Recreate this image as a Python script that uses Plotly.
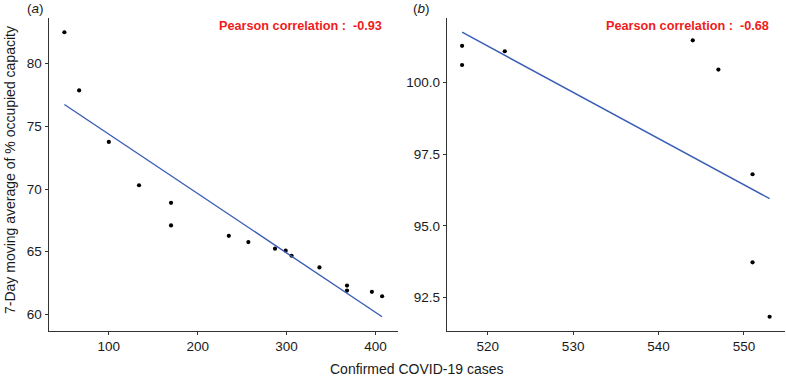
import numpy as np
import plotly.graph_objects as go

# Panel (a)
cases_a = [50, 66.6, 100, 134, 170, 170, 235, 257, 287, 299, 305.6, 337, 368, 368, 396, 407.5]
occ_a = [82.5, 77.86, 73.75, 70.3, 68.9, 67.1, 66.27, 65.77, 65.24, 65.08, 64.68, 63.75, 62.3, 61.9, 61.8, 61.45]
# Panel (b)
cases_b = [517, 517, 522, 544, 547, 551, 551, 553]
occ_b = [101.28, 100.61, 101.09, 101.47, 100.45, 96.8, 93.73, 91.83]

corr_labels = ["Pearson correlation :  -0.93", "Pearson correlation :  -0.68"]
panel_labels = ["(<i>a</i>)", "(<i>b</i>)"]
x_title = "Confirmed COVID-19 cases"
y_title = "7-Day moving average of % occupied capacity"

W, H = 786, 376
FONT = "Liberation Sans, Arial, Helvetica, sans-serif"

fig = go.Figure()

def fit_line(x, y):
    x = np.asarray(x, float); y = np.asarray(y, float)
    m, b = np.polyfit(x, y, 1)
    xs = np.array([x.min(), x.max()])
    return xs, m * xs + b

def expand(lo, hi, f=0.05):
    d = (hi - lo) * f
    return [lo - d, hi + d]

panels = [(cases_a, occ_a, "x", "y"), (cases_b, occ_b, "x2", "y2")]
ranges = []
for cx, cy, xa, ya in panels:
    lx, ly = fit_line(cx, cy)
    fig.add_trace(go.Scatter(x=cx, y=cy, mode="markers", xaxis=xa, yaxis=ya,
                             marker=dict(color="black", size=4.2), showlegend=False))
    fig.add_trace(go.Scatter(x=lx, y=ly, mode="lines", xaxis=xa, yaxis=ya,
                             line=dict(color="#3A5DB5", width=1.4), showlegend=False))
    allx = list(cx)
    ally = list(cy) + list(ly)
    ranges.append((expand(min(allx), max(allx)), expand(min(ally), max(ally))))

ydom = [1 - 331 / H, 1 - 18 / H]
axis_common = dict(showgrid=False, zeroline=False, showline=True, linecolor="#333333",
                   linewidth=1, ticks="outside", ticklen=3, tickcolor="#333333",
                   tickfont=dict(size=13.5, color="#1a1a1a", family=FONT))

fig.update_layout(
    width=W, height=H,
    margin=dict(l=0, r=0, t=0, b=0),
    paper_bgcolor="white", plot_bgcolor="white",
    font=dict(family=FONT, color="#1a1a1a"),
    xaxis=dict(domain=[48.5 / W, 398 / W], range=ranges[0][0], dtick=100, anchor="y", **axis_common),
    yaxis=dict(domain=ydom, range=ranges[0][1], dtick=5, anchor="x", **axis_common),
    xaxis2=dict(domain=[446.7 / W, 785 / W], range=ranges[1][0], dtick=10, anchor="y2", **axis_common),
    yaxis2=dict(domain=ydom, range=ranges[1][1], dtick=2.5, tickformat=".1f", anchor="x2", **axis_common),
)

ann = []
for i, cx in enumerate([300, 687.5]):
    ann.append(dict(x=cx / W, y=1 - 25.7 / H, xref="paper", yref="paper", text="<b>" + corr_labels[i] + "</b>",
                    showarrow=False, font=dict(size=12.7, color="#EE1C1C", family=FONT),
                    xanchor="center", yanchor="middle"))
for i, px in enumerate([35, 421.5]):
    ann.append(dict(x=px / W, y=1 - 8 / H, xref="paper", yref="paper", text=panel_labels[i],
                    showarrow=False, font=dict(size=13.5, color="#1a1a1a", family=FONT),
                    xanchor="center", yanchor="middle"))
ann.append(dict(x=417 / W, y=1 - 369 / H, xref="paper", yref="paper", text=x_title, showarrow=False,
                font=dict(size=14, color="#1a1a1a", family=FONT), xanchor="center", yanchor="middle"))
ann.append(dict(x=10 / W, y=1 - 170 / H, xref="paper", yref="paper", text=y_title, showarrow=False,
                textangle=-90, font=dict(size=14, color="#1a1a1a", family=FONT),
                xanchor="center", yanchor="middle"))
fig.update_layout(annotations=ann)

fig.write_html("out.html", config={"displayModeBar": False},
               post_script="document.body.style.margin='0px';document.body.style.padding='0px';")
